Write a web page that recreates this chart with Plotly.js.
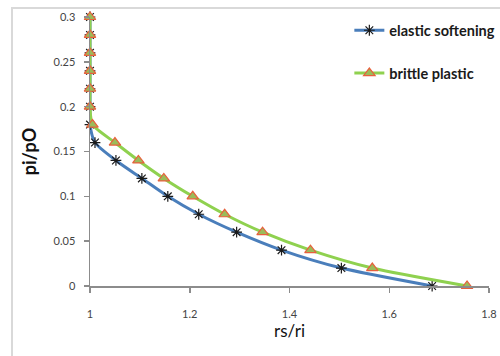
<!DOCTYPE html>
<html>
<head>
<meta charset="utf-8">
<script src="https://cdn.plot.ly/plotly-3.0.1.min.js"></script>
<style>html,body{margin:0;padding:0;background:#fff;}#chart{width:500px;height:356px;}</style>
</head>
<body>
<div id="chart"></div>
<script>
const elasticX = [1, 1, 1, 1, 1, 1, 1, 1.01, 1.052, 1.104, 1.156, 1.218, 1.294, 1.384, 1.504, 1.686];
const elasticY = [0.3, 0.28, 0.26, 0.24, 0.22, 0.2, 0.18, 0.16, 0.14, 0.12, 0.1, 0.08, 0.06, 0.04, 0.02, 0];
const brittleX = [1, 1, 1, 1, 1, 1, 1.005, 1.05, 1.097, 1.148, 1.206, 1.27, 1.346, 1.442, 1.566, 1.756];
const brittleY = [0.3, 0.28, 0.26, 0.24, 0.22, 0.2, 0.18, 0.16, 0.14, 0.12, 0.1, 0.08, 0.06, 0.04, 0.02, 0];
const xTicks = [1, 1.2, 1.4, 1.6, 1.8];
const xTickText = ['1', '1.2', '1.4', '1.6', '1.8'];
const yTicks = [0, 0.05, 0.1, 0.15, 0.2, 0.25, 0.3];
const yTickText = ['0', '0.05', '0.1', '0.15', '0.2', '0.25', '0.3'];

const traces = [
  {
    x: elasticX, y: elasticY, name: 'elastic softening', mode: 'lines+markers',
    legendgroup: 'a',
    line: {color: '#4a7ebb', width: 3, shape: 'spline', smoothing: 0.7},
    marker: {symbol: 'asterisk-open', size: 9, color: '#1a1a1a', line: {color: '#1a1a1a', width: 1.2}},
    cliponaxis: false
  },
  {
    x: brittleX, y: brittleY, name: 'brittle plastic', mode: 'lines+markers',
    legendgroup: 'b',
    line: {color: '#8fd14f', width: 3, shape: 'spline', smoothing: 0.7},
    marker: {symbol: 'triangle-up', size: 10, color: '#9bbb59', line: {color: '#e8603c', width: 1.2}},
    cliponaxis: false
  }
];

const layout = {
  width: 500, height: 356,
  margin: {l: 90, r: 11, t: 17, b: 70, autoexpand: false},
  paper_bgcolor: '#ffffff', plot_bgcolor: '#ffffff',
  font: {family: 'Lato, sans-serif', color: '#444'},
  showlegend: true,
  legend: {
    x: 0.65, y: 1.01, xanchor: 'left', yanchor: 'top',
    bgcolor: 'rgba(0,0,0,0)', itemwidth: 30,
    traceorder: 'grouped', tracegroupgap: 21,
    font: {family: 'Lato, sans-serif', size: 14.5, color: '#1a1a1a', weight: 'bold'}
  },
  xaxis: {
    range: [1, 1.8], tickvals: xTicks, ticktext: xTickText,
    showgrid: false, zeroline: false, showline: true, linecolor: '#8c8c8c', linewidth: 1.5,
    ticks: 'outside', ticklen: 5, tickcolor: '#8c8c8c', tickwidth: 1.5,
    ticklabelstandoff: 12, automargin: false,
    tickfont: {size: 11, color: '#444'},
    title: {text: 'rs/ri', font: {size: 17, color: '#111'}, standoff: 6}
  },
  yaxis: {
    range: [0, 0.3], tickvals: yTicks, ticktext: yTickText,
    showgrid: false, zeroline: false, showline: true, linecolor: '#8c8c8c', linewidth: 1.5,
    ticks: 'outside', ticklen: 5, tickcolor: '#8c8c8c', tickwidth: 1.5,
    ticklabelstandoff: 6, automargin: false,
    tickfont: {size: 11, color: '#444'},
    title: {text: 'pi/pO', font: {size: 18, color: '#111', weight: 'bold'}, standoff: 12}
  },
  shapes: [
    {type: 'rect', xref: 'paper', yref: 'paper', x0: -0.1955, x1: 1.2, y0: -0.4, y1: 1.0335,
     line: {color: '#d9d9d9', width: 2}, fillcolor: 'rgba(0,0,0,0)', layer: 'below'}
  ]
};

Plotly.newPlot('chart', traces, layout, {displayModeBar: false, staticPlot: true});
</script>
</body>
</html>
